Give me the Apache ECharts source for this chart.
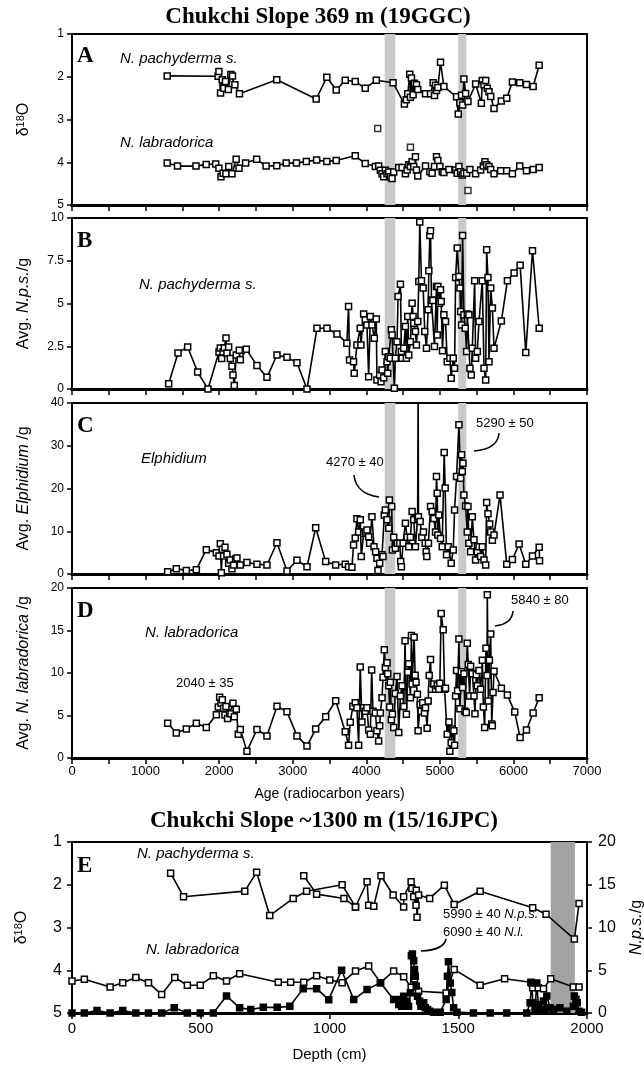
<!DOCTYPE html>
<html><head><meta charset="utf-8">
<script src="https://cdn.jsdelivr.net/npm/echarts/dist/echarts.min.js"></script>
<style>html,body{margin:0;padding:0;background:#fff}#c{width:644px;height:1069px}</style>
</head><body><div id="c"></div>
<script>
// ---------- DATA (age in radiocarbon years / depth in cm) ----------
const ageTicks = [0,1000,2000,3000,4000,5000,6000,7000];
const bands369 = [[4250,4395],[5250,5359]];
const band1300 = [1859,1953];

// Panel A: d18O
const aPachy = [[1294,1.98],[1986,1.99],[1997,1.88],[2019,2.38],[2042,2.07],[2064,2.27],[2086,2.11],[2125,2.30],[2159,1.95],[2181,1.98],[2214,2.19],[2276,2.40],[2783,2.07],[3319,2.52],[3464,2.01],[3591,2.31],[3714,2.08],[3850,2.11],[3986,2.27],[4136,2.08],[4364,2.14],[4518,2.64],[4545,2.54],[4564,2.40],[4591,1.94],[4600,2.48],[4614,2.03],[4636,2.42],[4655,2.15],[4682,2.19],[4700,2.30],[4805,2.40],[4873,2.40],[4909,2.14],[4927,2.44],[4941,2.20],[4954,2.32],[4973,2.25],[5009,1.66],[5055,2.23],[5227,2.47],[5250,2.87],[5273,2.61],[5295,2.43],[5309,2.66],[5327,2.05],[5350,2.39],[5382,2.58],[5486,2.17],[5564,2.62],[5577,2.09],[5600,2.19],[5623,2.09],[5645,2.27],[5668,2.35],[5691,2.46],[5736,2.74],[5836,2.57],[5909,2.50],[5986,2.12],[6086,2.14],[6177,2.18],[6268,2.23],[6350,1.73]];
const aLabr = [[1294,4.02],[1434,4.09],[1685,4.09],[1824,4.05],[1953,4.04],[1997,4.14],[2025,4.34],[2053,4.26],[2092,4.27],[2131,4.10],[2175,4.27],[2231,3.93],[2270,4.14],[2360,4.02],[2510,3.93],[2638,4.09],[2783,4.08],[2912,4.02],[3051,4.02],[3185,3.98],[3325,3.95],[3464,3.98],[3591,3.96],[3850,3.85],[3986,4.03],[4123,4.10],[4168,4.09],[4191,4.19],[4214,4.27],[4236,4.34],[4259,4.19],[4282,4.27],[4305,4.23],[4327,4.34],[4350,4.38],[4373,4.23],[4441,4.12],[4486,4.12],[4532,4.27],[4555,4.18],[4577,4.06],[4600,4.10],[4623,3.99],[4645,4.10],[4668,3.87],[4682,4.18],[4700,4.32],[4805,4.09],[4864,4.22],[4895,4.26],[4927,4.10],[4954,3.87],[4973,3.96],[5000,4.10],[5032,4.22],[5055,4.24],[5123,4.17],[5214,4.18],[5236,4.26],[5259,4.10],[5282,4.22],[5304,4.30],[5327,4.26],[5364,4.26],[5409,4.17],[5486,4.27],[5554,4.18],[5591,4.09],[5613,3.99],[5636,4.06],[5668,4.10],[5691,4.17],[5736,4.27],[5827,4.20],[5909,4.20],[5986,4.27],[6086,4.09],[6177,4.20],[6268,4.17],[6350,4.12]];
const aOutliers = [[4155,3.21],[4600,3.65],[5382,4.66]];

// Panel B: avg N. pachyderma s. per g
const bNps = [[1314,0.31],[1441,2.11],[1572,2.46],[1708,0.99],[1848,0.0],[1998,2.16],[2016,2.40],[2034,1.79],[2052,2.16],[2070,2.40],[2093,2.98],[2106,2.11],[2129,2.46],[2152,1.79],[2174,1.33],[2188,0.82],[2206,0.2],[2233,1.99],[2274,2.26],[2288,1.71],[2369,2.32],[2514,1.38],[2650,0.68],[2786,1.99],[2922,1.85],[3058,1.54],[3194,0.0],[3330,3.55],[3466,3.55],[3601,3.22],[3736,2.68],[3759,4.82],[3773,1.70],[3827,1.60],[3836,0.92],[3873,2.58],[3918,3.55],[3927,2.58],[3964,4.38],[3986,4.04],[4009,3.75],[4032,0.72],[4055,4.24],[4077,3.75],[4109,2.97],[4136,4.10],[4145,0.53],[4182,0.82],[4200,0.43],[4214,1.11],[4236,0.66],[4259,2.19],[4282,1.60],[4291,0.92],[4305,1.89],[4327,1.80],[4341,3.46],[4350,3.16],[4382,0.04],[4395,1.80],[4418,2.77],[4432,5.41],[4464,6.13],[4477,2.19],[4486,1.80],[4509,2.38],[4532,3.65],[4545,1.80],[4564,4.24],[4577,1.99],[4600,2.77],[4623,5.02],[4636,4.24],[4645,3.85],[4668,3.36],[4682,2.58],[4700,3.95],[4714,6.29],[4727,9.77],[4750,6.33],[4773,5.90],[4795,3.36],[4818,2.38],[4841,4.63],[4850,6.91],[4864,8.98],[4873,9.26],[4886,5.21],[4905,5.18],[4927,2.48],[4954,6.0],[4964,3.16],[4973,6.0],[4986,5.12],[4995,5.02],[5009,5.80],[5018,5.12],[5036,2.23],[5055,4.34],[5077,3.95],[5100,1.60],[5136,1.80],[5154,0.63],[5182,1.80],[5200,1.21],[5214,6.52],[5236,8.24],[5259,6.58],[5273,5.90],[5282,4.53],[5295,3.75],[5309,8.98],[5327,4.34],[5345,3.55],[5364,2.19],[5373,4.38],[5395,4.34],[5409,1.21],[5427,0.82],[5441,2.38],[5473,6.33],[5486,1.80],[5509,2.19],[5532,3.95],[5577,6.33],[5600,1.21],[5623,0.53],[5636,8.14],[5654,6.52],[5668,1.60],[5691,5.90],[5714,4.73],[5736,2.38],[5836,3.98],[5918,6.33],[6009,6.78],[6091,7.23],[6168,2.13],[6259,8.09],[6350,3.55]];

// Panel C: avg Elphidium per g
const cElph = [[1300,0.5],[1418,1.25],[1554,0.8],[1690,1.0],[1826,5.7],[1962,5.0],[1998,4.2],[2016,7.1],[2030,0.3],[2043,5.8],[2061,4.2],[2079,6.25],[2106,4.6],[2129,2.5],[2152,3.3],[2174,1.25],[2197,2.1],[2224,3.5],[2242,3.75],[2288,2.1],[2378,2.7],[2514,2.3],[2650,2.1],[2786,7.3],[2922,0.7],[3058,3.2],[3194,1.7],[3312,10.8],[3448,2.9],[3584,2.1],[3714,2.3],[3759,1.7],[3805,1.6],[3827,6.8],[3850,8.4],[3873,12.9],[3896,9.8],[3918,12.7],[3932,4.1],[3964,9.5],[3986,9.8],[4009,10.3],[4032,8.7],[4045,7.2],[4077,13.4],[4105,6.4],[4127,5.2],[4145,3.7],[4159,0.8],[4182,2.5],[4214,4.5],[4227,4.1],[4245,13.8],[4259,15.0],[4282,12.7],[4305,10.7],[4314,17.3],[4345,15.8],[4355,5.6],[4373,8.6],[4395,6.0],[4423,7.2],[4455,7.2],[4468,2.9],[4477,1.7],[4500,7.2],[4532,11.9],[4555,8.6],[4577,6.4],[4600,8.6],[4623,14.6],[4645,12.7],[4668,6.4],[4698,13.0],[4705,45],[4709,13.4],[4732,12.3],[4755,8.6],[4777,9.8],[4800,7.2],[4814,5.2],[4823,4.1],[4845,7.2],[4873,15.8],[4895,14.6],[4918,13.0],[4941,9.8],[4954,22.8],[4964,18.9],[4973,9.1],[4986,13.8],[5009,8.3],[5032,6.4],[5059,28.4],[5072,20.1],[5091,4.5],[5114,6.4],[5154,2.5],[5182,5.6],[5200,15.0],[5227,22.8],[5259,34.9],[5282,22.4],[5295,27.9],[5305,24.0],[5314,25.9],[5327,18.5],[5350,15.9],[5373,9.8],[5382,15.8],[5395,7.2],[5418,5.2],[5441,13.4],[5464,8.0],[5486,3.3],[5509,5.2],[5532,6.4],[5554,4.1],[5577,6.4],[5600,3.3],[5623,2.1],[5636,16.7],[5654,14.1],[5677,11.7],[5691,9.8],[5714,7.9],[5736,9.1],[5818,18.5],[5909,2.3],[5986,3.4],[6077,7.0],[6168,2.3],[6259,4.2],[6350,6.25],[6355,3.1]];

// Panel D: avg N. labradorica per g
const dLabr = [[1300,4.1],[1418,2.95],[1554,3.4],[1690,4.1],[1826,3.6],[1962,5.1],[1989,6.0],[2007,7.15],[2025,6.45],[2043,6.85],[2061,5.85],[2079,5.05],[2093,6.05],[2115,4.65],[2143,5.25],[2161,5.2],[2188,6.45],[2206,4.85],[2233,5.75],[2260,2.8],[2288,3.35],[2378,0.8],[2514,3.35],[2650,2.6],[2786,6.1],[2922,5.45],[3058,2.6],[3194,1.4],[3312,3.4],[3448,4.85],[3584,6.75],[3714,3.1],[3759,1.5],[3782,4.2],[3818,6.1],[3850,6.5],[3873,5.9],[3896,1.5],[3918,10.7],[3941,4.25],[3964,5.9],[3986,5.5],[4009,5.9],[4032,3.3],[4055,2.8],[4073,10.35],[4091,5.5],[4123,5.3],[4145,3.2],[4168,2.0],[4182,3.8],[4191,5.3],[4214,7.1],[4227,9.5],[4245,12.75],[4259,10.65],[4282,11.2],[4291,9.9],[4305,8.5],[4318,6.0],[4327,8.9],[4341,4.5],[4355,5.15],[4373,3.6],[4395,7.6],[4418,9.6],[4441,3.0],[4464,7.3],[4486,8.5],[4509,6.05],[4527,13.8],[4545,5.15],[4564,10.1],[4577,11.1],[4600,7.1],[4614,14.4],[4623,8.7],[4650,14.2],[4664,9.75],[4677,8.9],[4695,7.5],[4704,3.2],[4732,6.3],[4745,5.5],[4768,6.5],[4791,5.3],[4805,5.9],[4827,3.5],[4841,6.7],[4855,9.7],[4873,11.6],[4886,8.1],[4918,8.7],[4941,8.1],[4964,8.5],[4986,8.1],[5000,8.8],[5018,17.0],[5045,15.1],[5064,8.1],[5077,8.2],[5100,2.8],[5123,4.25],[5136,0.8],[5154,1.8],[5168,3.4],[5191,3.2],[5200,1.5],[5214,7.3],[5227,10.3],[5241,7.9],[5259,14.0],[5273,5.8],[5291,10.15],[5309,8.3],[5327,9.9],[5341,5.5],[5359,5.35],[5373,13.5],[5386,11.0],[5405,7.3],[5418,10.8],[5441,9.9],[5464,7.3],[5477,5.2],[5495,9.8],[5509,8.5],[5532,10.3],[5554,8.1],[5577,11.5],[5591,6.0],[5609,3.6],[5627,12.9],[5641,9.7],[5645,19.2],[5659,6.7],[5673,11.5],[5691,14.6],[5705,4.0],[5713,3.8],[5723,7.7],[5736,10.2],[5836,8.2],[5918,7.4],[6018,5.4],[6091,2.4],[6177,3.3],[6268,5.3],[6350,7.1]];

// Panel E: 15/16JPC, depth (cm)
const ePachy = [[383,1.73],[433,2.28],[671,2.15],[717,1.71],[768,2.72],[859,2.32],[911,2.15],[1049,2.0],[1101,2.52],[1146,1.93],[1152,2.48],[1172,2.5],[1200,1.79],[1247,2.24],[1288,2.52],[1288,2.28],[1317,1.93],[1320,2.09],[1327,2.28],[1336,2.48],[1337,2.13],[1340,2.76],[1346,2.24],[1389,2.32],[1446,2.01],[1484,2.46],[1585,2.15],[1789,2.54],[1841,2.69],[1951,3.27],[1969,2.44]];
const ePachy2 = [[900,1.79],[950,2.22],[1056,2.32],[1101,2.52]];
const eLabr = [[0,4.25],[48,4.21],[148,4.39],[197,4.29],[248,4.17],[297,4.29],[348,4.57],[399,4.17],[448,4.35],[498,4.35],[549,4.13],[600,4.25],[651,4.08],[801,4.28],[849,4.28],[900,4.28],[950,4.13],[1001,4.23],[1049,4.29],[1101,4.02],[1152,3.90],[1198,4.29],[1249,4.02],[1288,4.15],[1317,4.4],[1330,4.2],[1346,4.49],[1453,4.53],[1484,3.98],[1585,4.35],[1680,4.2],[1782,4.28],[1789,4.41],[1811,4.41],[1831,4.43],[1859,4.2],[1947,4.39],[1969,4.39]];
const eNps = [[0,0],[48,0],[97,0.3],[148,0],[197,0.3],[248,0],[297,0],[348,0],[397,0.6],[448,0],[498,0],[549,0],[600,2.0],[651,0.6],[694,0.4],[743,0.66],[797,0.66],[846,0.78],[898,2.85],[950,2.85],[997,1.56],[1047,5.0],[1094,1.57],[1146,2.76],[1198,3.54],[1249,1.57],[1269,1.0],[1275,1.57],[1281,0.8],[1288,1.97],[1294,1.0],[1301,1.38],[1307,0.8],[1314,2.36],[1318,6.7],[1322,6.9],[1327,6.1],[1330,5.1],[1333,4.3],[1337,3.15],[1342,1.97],[1350,1.38],[1355,0.8],[1366,1.2],[1372,0.6],[1381,0.4],[1389,0.2],[1404,0.1],[1430,0.1],[1453,1.57],[1458,4.3],[1462,6.0],[1469,3.5],[1475,2.4],[1482,0.6],[1495,0.1],[1559,0],[1624,0],[1688,0],[1766,0],[1779,1.2],[1785,3.5],[1790,1.2],[1798,0.4],[1805,3.5],[1811,1.0],[1818,0.4],[1831,1.4],[1837,0.4],[1844,2.0],[1857,0.6],[1870,0.4],[1895,0.6],[1921,0.2],[1947,0.8],[1951,2.0],[1957,1.6],[1962,1.2],[1969,0.2],[1979,0.1]];

// ---------- CHART ----------
const SANS = 'Liberation Sans', SERIF = 'Liberation Serif';
const chart = echarts.init(document.getElementById('c'), null, {renderer:'canvas'});
const L = 72, R = 57;
const gridDefs = [[34,171],[218,171],[403,171],[588,170],[842,171]];
const grid = gridDefs.map(([t,h]) => ({left:L, right:R, top:t, height:h, show:true, borderColor:'#000', borderWidth:2, backgroundColor:'rgba(0,0,0,0)', outerBoundsMode:'none', containLabel:false}));

function ageAxis(i, labels){
  return {type:'value', gridIndex:i, min:0, max:7000, interval:500,
    axisLine:{show:true, onZero:false, lineStyle:{color:'#000', width:3}},
    axisTick:{show:true, length:6, lineStyle:{color:'#000', width:1.5}},
    axisLabel:{show:labels, color:'#000', fontSize:13, fontFamily:SANS, margin:7,
      formatter: v => (ageTicks.indexOf(v) >= 0 ? String(v) : '')},
    splitLine:{show:false},
    name: labels ? 'Age (radiocarbon years)' : '', nameLocation:'middle', nameGap:29,
    nameTextStyle:{color:'#000', fontSize:14, fontFamily:SANS}};
}
const xAxis = [ageAxis(0,false), ageAxis(1,false), ageAxis(2,false), ageAxis(3,true),
  {type:'value', gridIndex:4, min:0, max:2000, interval:500,
   axisLine:{show:true, onZero:false, lineStyle:{color:'#000', width:3}},
   axisTick:{show:true, length:6, lineStyle:{color:'#000', width:1.5}},
   axisLabel:{color:'#000', fontSize:15, fontFamily:SANS, margin:8, formatter: v => String(v)},
   splitLine:{show:false},
   name:'Depth (cm)', nameLocation:'middle', nameGap:34,
   nameTextStyle:{color:'#000', fontSize:15, fontFamily:SANS}}];

const richName = {
  n:{fontSize:16, fontFamily:SANS, color:'#000', lineHeight:20},
  i:{fontSize:16, fontFamily:SANS, fontStyle:'italic', color:'#000', lineHeight:20},
  s:{fontSize:11, fontFamily:SANS, color:'#000', lineHeight:20, padding:[0,0,7,0]}
};
function yAx(i, min, max, step, name, opts){
  return Object.assign({type:'value', gridIndex:i, min:min, max:max, interval:step,
    axisLine:{show:true, onZero:false, lineStyle:{color:'#000', width:2}},
    axisTick:{show:true, length:5, lineStyle:{color:'#000', width:1.5}},
    axisLabel:{color:'#000', fontSize:12, fontFamily:SANS, margin:8},
    splitLine:{show:false},
    name:name, nameLocation:'middle', nameRotate:90, nameGap:38,
    nameTextStyle:{rich:richName}}, opts || {});
}
const yAxis = [
  yAx(0,1,5,1,'{n|δ}{s|18}{n|O}',{inverse:true, nameGap:38}),
  yAx(1,0,10,2.5,'{n|Avg. }{i|N.p.s.}{n|/g}',{nameGap:38}),
  yAx(2,0,40,10,'{n|Avg. }{i|Elphidium}{n| /g}',{nameGap:38}),
  yAx(3,0,20,5,'{n|Avg. }{i|N. labradorica}{n| /g}',{nameGap:38}),
  yAx(4,1,5,1,'{n|δ}{s|18}{n|O}',{inverse:true, nameGap:40, axisLabel:{color:'#000', fontSize:16, fontFamily:SANS, margin:10}}),
  yAx(4,0,20,5,'{i|N.p.s.}{n|/g}',{position:'right', nameGap:40, axisLabel:{color:'#000', fontSize:16, fontFamily:SANS, margin:11}})
];

function lineS(xi, yi, data, filled){
  return {type:'line', xAxisIndex:xi, yAxisIndex:yi, data:data, symbol:'rect', symbolSize:6,
    showSymbol:true, showAllSymbol:true, clip:true, z:3, animation:false, silent:true,
    lineStyle:{color:'#000', width:1.6},
    itemStyle:{color: filled ? '#000' : '#fff', borderColor:'#000', borderWidth:1.5}};
}
function bandS(xi, yi, ranges, color){
  return {type:'line', xAxisIndex:xi, yAxisIndex:yi, data:[], z:1, silent:true, animation:false,
    markArea:{silent:true, itemStyle:{color:color}, data: ranges.map(r => [{xAxis:r[0]},{xAxis:r[1]}])}};
}
const series = [];
for (let i=0;i<4;i++) series.push(bandS(i,i,bands369,'#c9c9c9'));
series.push(bandS(4,4,[band1300],'#a3a3a3'));
series.push(lineS(0,0,aPachy), lineS(0,0,aLabr));
series.push({type:'scatter', xAxisIndex:0, yAxisIndex:0, data:aOutliers, symbol:'rect', symbolSize:6, z:3, silent:true, animation:false,
  itemStyle:{color:'#fff', borderColor:'#000', borderWidth:1.5}});
series.push(lineS(1,1,bNps), lineS(2,2,cElph), lineS(3,3,dLabr));
series.push(lineS(4,4,ePachy), lineS(4,4,ePachy2), lineS(4,4,eLabr), lineS(4,5,eNps,true));

function txt(x, y, text, font, extra){
  return {type:'text', x:x, y:y, silent:true, z:10,
    style:Object.assign({text:text, font:font, fill:'#000', verticalAlign:'middle', align:'left'}, extra||{})};
}
const titleFont = 'bold 23px "Liberation Serif"';
const letterFont = 'bold 23px "Liberation Serif"';
const spFont = 'italic 15px "Liberation Sans"';
const annFont = '13px "Liberation Sans"';
function curve(x1,y1,cx,cy,x2,y2){
  return {type:'bezierCurve', silent:true, z:10, shape:{x1:x1,y1:y1,cpx1:cx,cpy1:cy,x2:x2,y2:y2},
    style:{stroke:'#000', lineWidth:1.6, fill:null}};
}
const graphic = [
  txt(318,17,'Chukchi Slope 369 m (19GGC)',titleFont,{align:'center'}),
  txt(324,821,'Chukchi Slope ~1300 m (15/16JPC)',titleFont,{align:'center'}),
  txt(77,56,'A',letterFont), txt(77,241,'B',letterFont), txt(77,426,'C',letterFont),
  txt(77,611,'D',letterFont), txt(77,866,'E',letterFont),
  txt(120,59,'N. pachyderma s.',spFont), txt(120,143,'N. labradorica',spFont),
  txt(139,285,'N. pachyderma s.',spFont), txt(141,459,'Elphidium',spFont),
  txt(145,633,'N. labradorica',spFont),
  txt(137,854,'N. pachyderma s.',spFont), txt(146,950,'N. labradorica',spFont),
  txt(326,462,'4270 ± 40',annFont), txt(476,423,'5290 ± 50',annFont),
  txt(176,683,'2040 ± 35',annFont), txt(511,600,'5840 ± 80',annFont),
  {type:'text', x:443, y:914, silent:true, z:10, style:{text:'{n|5990 ± 40 }{i|N.p.s.}', verticalAlign:'middle',
    rich:{n:{font:annFont, fill:'#000'}, i:{font:'italic 13px "Liberation Sans"', fill:'#000'}}}},
  {type:'text', x:443, y:932, silent:true, z:10, style:{text:'{n|6090 ± 40 }{i|N.l.}', verticalAlign:'middle',
    rich:{n:{font:annFont, fill:'#000'}, i:{font:'italic 13px "Liberation Sans"', fill:'#000'}}}},
  curve(354,475,356,494,379,497),
  curve(499,433,498,449,474,451),
  curve(513,611,512,624,495,626),
  curve(446,939,444,950,421,951)
];

chart.setOption({animation:false, backgroundColor:'#fff', grid:grid, xAxis:xAxis, yAxis:yAxis, series:series, graphic:graphic});
</script></body></html>
